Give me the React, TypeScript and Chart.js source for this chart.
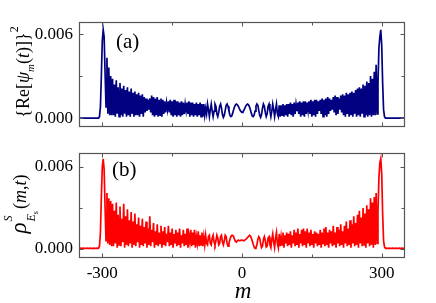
import React, { useEffect, useRef } from 'react';
import { Chart, registerables } from 'chart.js';

Chart.register(...registerables);

// ---- data -------------------------------------------------------------
// m grid: first m and step; values are in units of 1e-4
const M_START = -350;
const M_STEP = 2;
const VALUE_UNIT = 1e-4;

const X_MIN = -350;
const X_MAX = 350;
const X_TICKS = [-300, 0, 300];
const X_MINOR_TICKS = [-150, 150];
const Y_TICKS = [0, 0.006];
const Y_MINOR_TICKS = [0.003];

// (a) {Re[psi_m(t)]}^2
const SERIES_A: number[] = [
  // m -350 .. -308
  0, 0, 0, 0, 0, 0, 0, 0, 0, 0, 0, 0, 0, 0, 0, 0, 0, 0, 0, 0, 0, 0,
  // m -306 .. -280
  1, 8, 30, 55, 63, 58, 32, 8, 43, 3, 36, 2, 30, 2,
  // m -278 .. -80
  28, 2, 24, 1, 27, 3, 22, 1, 25, 2, 21, 1, 23, 3, 20, 1, 22, 2, 19, 1,
  21, 3, 18, 1, 19, 2, 17, 2, 18, 1, 16, 3, 17, 1, 15, 4, 14, 5, 13, 6,
  14, 4, 16, 2, 15, 1, 14, 2, 15, 1, 13, 2, 14, 1, 13, 3, 12, 4, 11, 6,
  12, 4, 13, 2, 12, 1, 13, 2, 12, 1, 12, 2, 11, 1, 12, 2, 11, 3, 10, 5,
  11, 3, 12, 1, 11, 2, 11, 1, 10, 2, 11, 1, 10, 2, 11, 1, 10, 1, 10, 2,
  // m -78 .. -2
  7, 3, 10, 6, 1, 6, 10, 5, 1, 5, 10, 8.5, 3, 1, 4, 8.5, 10, 7, 2.5, 0.5,
  2, 5.5, 9, 10, 8.5, 5, 2, 1, 1.5, 3.5, 6, 8, 9.5, 10, 9.5, 8.5, 7, 5.5, 4.5,
  // m 0
  4,
  // m 2 .. 78
  4.5, 5.5, 7, 8.5, 9.5, 10, 9.5, 8, 6, 3.5, 1.5, 1, 2, 5, 8.5, 10, 9, 5.5, 2, 0.5,
  2.5, 7, 10, 8.5, 4, 1, 3, 8.5, 10, 5, 1, 5, 10, 6, 1, 6, 10, 3, 1,
  // m 80 .. 282
  9, 1, 9, 2, 10, 1, 9, 2, 10, 1, 10, 3, 11, 2, 10, 1, 11, 3, 10, 5,
  11, 3, 12, 1, 11, 2, 12, 1, 12, 3, 11, 5, 12, 3, 13, 1, 12, 2, 13, 1,
  13, 3, 12, 5, 13, 3, 14, 1, 13, 2, 14, 1, 15, 3, 14, 5, 13, 6, 15, 4,
  16, 2, 15, 3, 14, 6, 16, 4, 17, 2, 16, 1, 18, 3, 17, 1, 18, 2, 19, 1,
  18, 3, 20, 1, 21, 2, 22, 1, 21, 3, 24, 1, 23, 2, 26, 1, 25, 2, 30, 1,
  28, 2,
  // m 284 .. 306
  33, 2, 38, 3, 25, 50, 58, 63, 52, 25, 6, 1,
  // m 308 .. 350
  0, 0, 0, 0, 0, 0, 0, 0, 0, 0, 0, 0, 0, 0, 0, 0, 0, 0, 0, 0, 0, 0,
];

// (b) rho^S_{E_s}(m,t)
const SERIES_B: number[] = [
  // m -350 .. -308
  0.5, 0.4, 0.6, 0.5, 0.4, 0.6, 0.5, 0.5, 0.4, 0.6, 0.5, 0.4, 0.6, 0.5, 0.5, 0.4, 0.6, 0.5, 0.4, 0.6, 0.5, 0.6,
  // m -306 .. -280
  2, 12, 38, 60, 66, 58, 30, 6, 41, 4, 37, 3, 35, 2,
  // m -278 .. -80
  33, 2, 28, 4, 34, 1, 25, 3, 31, 2, 22, 5, 33, 1, 24, 3, 29, 2, 21, 4,
  27, 1, 20, 3, 26, 2, 18, 5, 23, 1, 17, 3, 22, 2, 16, 4, 20, 1, 15, 3,
  24, 2, 14, 5, 19, 1, 13, 3, 18, 2, 12, 4, 17, 1, 13, 3, 16, 2, 11, 5,
  17, 2, 12, 3, 15, 1, 11, 4, 14, 2, 12, 3, 15, 1, 10, 4, 14, 2, 11, 3,
  15, 1, 10, 5, 14, 2, 12, 3, 14, 1, 9, 4, 13, 2, 10, 3, 12, 2, 9, 3,
  // m -78 .. -2
  10, 4, 3, 9, 10, 4, 3, 8, 10, 5, 3, 6, 10, 8, 3, 4, 9, 10, 5, 3,
  6, 10, 9, 4, 2, 4, 7, 9, 10, 10, 9, 7, 5.5, 5, 6, 6.5, 6, 6, 6.5,
  // m 0
  6.5,
  // m 2 .. 78
  6.5, 6, 6.5, 7, 7.5, 8.5, 9, 10, 9.5, 8, 6, 3.5, 1.5, 0.5, 1, 3, 7, 9, 8, 4,
  1, 2, 7, 9, 6, 1.5, 2, 8, 9, 3, 1, 7, 11, 5, 1, 8, 12, 4, 1,
  // m 80 .. 282
  11, 2, 9, 3, 12, 1, 10, 4, 12, 2, 11, 3, 13, 1, 10, 4, 14, 2, 12, 3,
  15, 1, 11, 4, 14, 2, 15, 3, 13, 1, 15, 4, 12, 2, 14, 3, 11, 1, 13, 4,
  12, 2, 11, 3, 14, 1, 12, 4, 15, 2, 16, 3, 12, 1, 14, 4, 13, 2, 17, 3,
  12, 1, 16, 4, 14, 2, 18, 3, 13, 1, 17, 4, 20, 2, 15, 3, 21, 1, 18, 4,
  24, 2, 19, 3, 25, 1, 28, 4, 23, 2, 30, 3, 26, 1, 32, 4, 29, 2, 37, 3,
  34, 1,
  // m 284 .. 306
  38, 3, 41, 4, 28, 52, 63, 66, 55, 26, 6, 1.5,
  // m 308 .. 350
  0.5, 0.6, 0.4, 0.5, 0.6, 0.5, 0.4, 0.5, 0.6, 0.5, 0.4, 0.6, 0.5, 0.5, 0.4, 0.6, 0.5, 0.4, 0.6, 0.5, 0.5, 0.4,
];

// ---- layout -----------------------------------------------------------
const W = 436;
const H = 303;
const PLOT_LEFT = 79;
const PLOT_RIGHT = 405;
const SERIF = '"Liberation Serif", "Times New Roman", serif';

const framePlugin = {
  id: 'frameTicks',
  afterDraw(chart: any) {
    const { ctx, chartArea: a, scales } = chart;
    const xs = scales.x;
    const ys = scales.y;
    const l = Math.round(a.left) + 0.5;
    const r = Math.round(a.right) - 0.5;
    const t = Math.round(a.top) + 0.5;
    const b = Math.round(a.bottom) - 0.5;
    ctx.save();
    ctx.strokeStyle = '#555';
    ctx.lineWidth = 1.2;
    ctx.strokeRect(l, t, r - l, b - t);
    ctx.lineWidth = 1;
    ctx.beginPath();
    const xt = (vals: number[], len: number) => {
      vals.forEach((v) => {
        const px = Math.round(xs.getPixelForValue(v)) + 0.5;
        ctx.moveTo(px, b);
        ctx.lineTo(px, b - len);
        ctx.moveTo(px, t);
        ctx.lineTo(px, t + len);
      });
    };
    const yt = (vals: number[], len: number) => {
      vals.forEach((v) => {
        const py = Math.round(ys.getPixelForValue(v)) + 0.5;
        ctx.moveTo(l, py);
        ctx.lineTo(l + len, py);
        ctx.moveTo(r, py);
        ctx.lineTo(r - len, py);
      });
    };
    xt(X_TICKS, 4);
    xt(X_MINOR_TICKS, 3);
    yt(Y_TICKS, 4);
    yt(Y_MINOR_TICKS, 3);
    ctx.stroke();
    ctx.restore();
  },
};

type PanelProps = {
  values: number[];
  color: string;
  top: number;
  bottom: number;
  yMin: number;
  yMax: number;
  showX: boolean;
};

function Panel({ values, color, top, bottom, yMin, yMax, showX }: PanelProps) {
  const ref = useRef<HTMLCanvasElement | null>(null);
  useEffect(() => {
    if (!ref.current) return;
    const points = values.map((v, i) => ({ x: M_START + i * M_STEP, y: v * VALUE_UNIT }));
    const chart = new Chart(ref.current, {
      type: 'line',
      data: {
        datasets: [
          {
            data: points,
            borderColor: color,
            borderWidth: 1.7,
            pointRadius: 0,
            fill: false,
            tension: 0,
          },
        ],
      },
      options: {
        responsive: false,
        animation: false,
        layout: { padding: { top, right: W - PLOT_RIGHT, left: 0, bottom: 0 } },
        plugins: { legend: { display: false }, tooltip: { enabled: false }, title: { display: false } },
        scales: {
          x: {
            type: 'linear',
            min: X_MIN,
            max: X_MAX,
            grid: { display: false, drawTicks: false },
            border: { display: false },
            afterBuildTicks: (s: any) => {
              s.ticks = X_TICKS.map((v) => ({ value: v }));
            },
            afterFit: (s: any) => {
              s.height = H - bottom;
            },
            ticks: {
              display: showX,
              padding: 5,
              autoSkip: false,
              maxRotation: 0,
              color: '#000',
              font: { family: SERIF, size: 17 },
              callback: (v: any) => String(v),
            },
          },
          y: {
            type: 'linear',
            min: yMin,
            max: yMax,
            grid: { display: false, drawTicks: false },
            border: { display: false },
            afterBuildTicks: (s: any) => {
              s.ticks = Y_TICKS.map((v) => ({ value: v }));
            },
            afterFit: (s: any) => {
              s.width = PLOT_LEFT;
            },
            ticks: {
              padding: 6,
              color: '#000',
              font: { family: SERIF, size: 17 },
              callback: (v: any) => Number(v).toFixed(3),
            },
          },
        },
      },
      plugins: [framePlugin],
    } as any);
    return () => chart.destroy();
  }, [values, color, top, bottom, yMin, yMax, showX]);
  return (
    <canvas
      ref={ref}
      width={W}
      height={H}
      style={{ position: 'absolute', left: 0, top: 0, width: W, height: H, display: 'block' }}
    />
  );
}

const textBase: React.CSSProperties = {
  position: 'absolute',
  fontFamily: SERIF,
  color: '#000',
  whiteSpace: 'nowrap',
  lineHeight: 1,
};

export default function App() {
  useEffect(() => {
    document.body.style.margin = '0';
  }, []);
  return (
    <div style={{ position: 'relative', width: W, height: H, background: '#fff', overflow: 'hidden' }}>
      <Panel values={SERIES_A} color="#000080" top={22} bottom={127} yMin={-0.00064} yMax={0.00686} showX={false} />
      <Panel values={SERIES_B} color="#ff0000" top={153} bottom={258} yMin={-0.00066} yMax={0.00702} showX={true} />

      <div style={{ ...textBase, left: 116, top: 31, fontSize: 21 }}>(a)</div>
      <div style={{ ...textBase, left: 112, top: 159, fontSize: 21 }}>(b)</div>

      <div
        style={{
          ...textBase,
          left: 22,
          top: 72,
          fontSize: 18,
          transform: 'translate(-50%, -50%) rotate(-90deg)',
        }}
      >
        {'{Re['}
        <i>ψ</i>
        <span style={{ fontSize: 11, verticalAlign: '-0.4em' }}>
          <i>m</i>
        </span>
        (<i>t</i>){')]}'.slice(1)}
        <span style={{ fontSize: 12, verticalAlign: '0.9em' }}>2</span>
      </div>

      <div
        style={{
          ...textBase,
          left: 22,
          top: 204,
          fontSize: 18,
          transform: 'translate(-50%, -50%) rotate(-90deg)',
        }}
      >
        <i style={{ fontSize: 23 }}>ρ</i>
        <span
          style={{
            display: 'inline-flex',
            flexDirection: 'column',
            verticalAlign: 'middle',
            fontSize: 12,
            lineHeight: 1.15,
            marginLeft: 1,
            marginRight: 2,
          }}
        >
          <span style={{ position: 'relative', top: -6 }}>
            <i>S</i>
          </span>
          <span style={{ position: 'relative', top: 4 }}>
            <i>E</i>
            <span style={{ fontSize: 8, verticalAlign: '-0.3em' }}>s</span>
          </span>
        </span>
        (<i>m</i>,<i>t</i>)
      </div>

      <div style={{ ...textBase, left: 243, top: 279, fontSize: 23, transform: 'translateX(-50%)' }}>
        <i>m</i>
      </div>
    </div>
  );
}
